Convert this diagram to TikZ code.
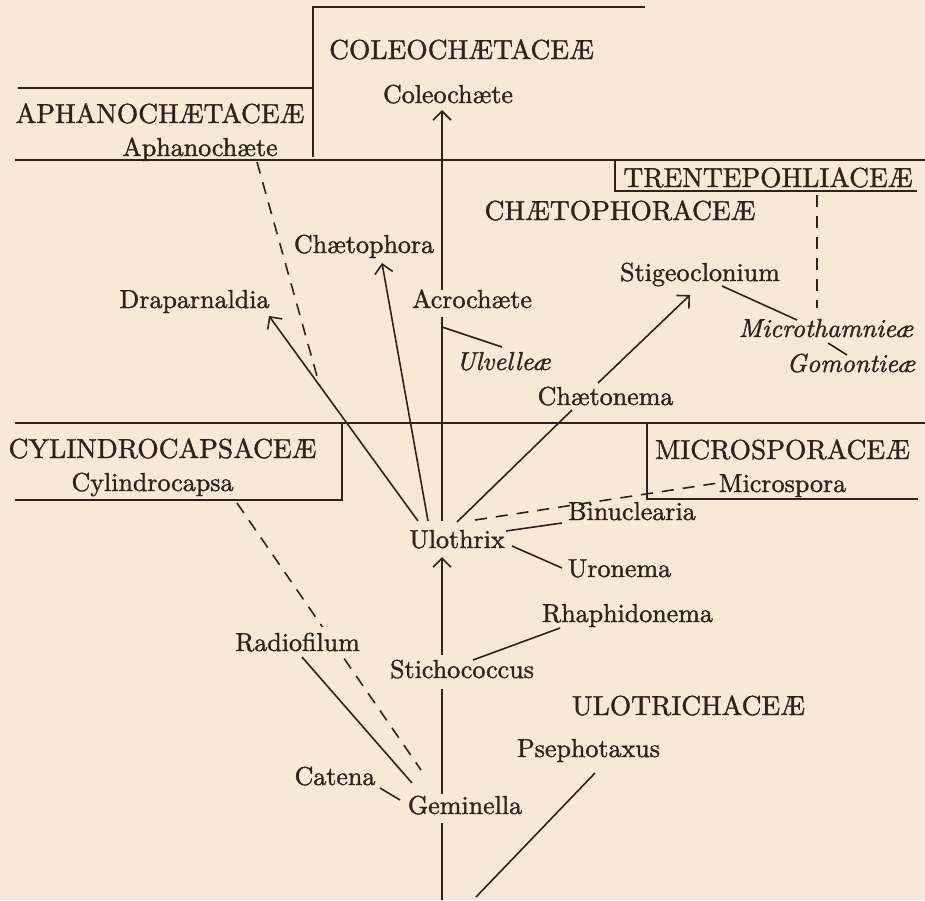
\documentclass[tikz,border=0pt]{standalone}
\usepackage{fontspec}
\setmainfont{lmroman10-regular.otf}[ItalicFont=lmroman10-italic.otf, FakeBold=1.3]
\usetikzlibrary{arrows.meta,calc}
\definecolor{bg}{RGB}{246,234,214}
\definecolor{ink}{RGB}{45,35,28}
\begin{document}
\begin{tikzpicture}[x=1pt,y=-1pt,
  lbl/.style={anchor=base, inner sep=0pt, text height=18pt, text depth=0pt, text=ink, font=\fontsize{26}{30}\selectfont},
  fam/.style={lbl, font=\fontsize{27.5}{30}\selectfont},
  sp/.style={lbl, font=\fontsize{26}{30}\selectfont\itshape},
  famline/.style={draw=ink, line width=1.6pt},
  link/.style={draw=ink, line width=1.6pt},
  arr/.style={link, -{Straight Barb[length=9pt,width=18pt]}},
  dsh/.style={link, dash pattern=on 12pt off 9pt}]
\fill[bg] (0,0) rectangle (925,900);
\useasboundingbox (0,0) rectangle (925,900);

% family frames
\draw[famline] (313,157) -- (313,7) -- (645,7);
\draw[famline] (18,88) -- (313,88);
\draw[famline] (15,160) -- (925,160);
\draw[famline] (615,160) -- (615,191) -- (917,191);
\draw[famline] (15,423) -- (925,423);
\draw[famline] (342,423) -- (342,500) -- (15,500);
\draw[famline] (647,423) -- (647,499) -- (918,499);

% labels
\node[fam] (colefam) at (461.5,59) {COLEOCHÆTACEÆ};
\node[lbl] (cole) at (448,103) {Coleochæte};
\node[fam] (aphfam) at (160,123) {APHANOCHÆTACEÆ};
\node[lbl] (aph) at (200,156) {Aphanochæte};
\node[fam] (trfam) at (768,187) {TRENTEPOHLIACEÆ};
\node[fam] (chfam) at (620,220) {CHÆTOPHORACEÆ};
\node[lbl] (stig) at (700,281) {Stigeoclonium};
\node[lbl] (acro) at (472,308) {Acrochæte};
\node[lbl] (chae) at (364,253) {Chætophora};
\node[lbl] (drap) at (194.5,308) {Draparnaldia};
\node[sp] (ulv) at (503.5,370) {Ulvelleæ};
\node[sp] (micth) at (826,337) {Microthamnieæ};
\node[sp] (gom) at (851,372) {Gomontieæ};
\node[lbl] (chtn) at (605.5,405) {Chætonema};
\node[fam] (cylfam) at (162.5,458) {CYLINDROCAPSACEÆ};
\node[lbl] (cyl) at (152.5,491) {Cylindrocapsa};
\node[fam] (micfam) at (782.5,459) {MICROSPORACEÆ};
\node[lbl] (mic) at (782.5,492) {Microspora};
\node[lbl] (binu) at (632,520) {Binuclearia};
\node[lbl] (ulo) at (457,548) {Ulothrix};
\node[lbl] (uro) at (619.5,577) {Uronema};
\node[lbl] (rhap) at (627.5,622) {Rhaphidonema};
\node[lbl] (stich) at (462,678) {Stichococcus};
\node[fam] (ulofam) at (688.5,715) {ULOTRICHACEÆ};
\node[lbl] (pse) at (588.5,757) {Psephotaxus};
\node[lbl] (cat) at (335,785) {Catena};
\node[lbl] (gem) at (465,814) {Geminella};
\coordinate (root) at (442,900);
\coordinate (psroot) at (476,897);

% main trunk
\draw[link] ([shift={(-23,9)}]gem.base) -- (root);
\draw[link] ([shift={(-23,-20)}]gem.base) -- ([shift={(-20,11)}]stich.base);
\draw[arr] ([shift={(-20,-23)}]stich.base) -- ([shift={(-15,9)}]ulo.base);
\draw[link] ([shift={(-15,-27)}]ulo.base) -- ([shift={(-30,9)}]acro.base);
\draw[arr] ([shift={(-30,-18)}]acro.base) -- ([shift={(-6,7)}]cole.base);
\coordinate (ulvfork) at ([shift={(-30,19)}]acro.base);
\draw[link] (ulvfork) -- ([shift={(-1.5,-23)}]ulv.base);

% branches from Ulothrix
\draw[arr] ([shift={(-39,-27)}]ulo.base) -- ([shift={(74.5,8)}]drap.base);
\draw[arr] ([shift={(-29,-27)}]ulo.base) -- ([shift={(18,10)}]chae.base);
\draw[link] ([shift={(0,-26)}]ulo.base) -- ([shift={(-33.5,5)}]chtn.base);
\draw[arr] ([shift={(-7.5,-22)}]chtn.base) -- ([shift={(-10,14)}]stig.base);
\draw[dsh] ([shift={(18,-28)}]ulo.base) -- ([shift={(-64.5,-9)}]mic.base);
\draw[link] ([shift={(49,-17)}]ulo.base) -- ([shift={(-70,3)}]binu.base);
\draw[link] ([shift={(55,-2)}]ulo.base) -- ([shift={(-57.5,-9)}]uro.base);
\draw[link] ([shift={(11,-18)}]stich.base) -- ([shift={(-67.5,6)}]rhap.base);
\draw[link] ([shift={(6.5,16)}]pse.base) -- (psroot);

% Chaetophoraceae side
\draw[link] ([shift={(22,5)}]stig.base) -- ([shift={(-29,-17)}]micth.base);
\draw[link] ([shift={(2,6)}]micth.base) -- ([shift={(-4,-17)}]gom.base);
\draw[dsh] ([shift={(49,8)}]trfam.base) -- ([shift={(-9,-29)}]micth.base);

% dashed affinities
\coordinate (drapjoin) at ($([shift={(-39,-27)}]ulo.base)!0.66!([shift={(74.5,8)}]drap.base)$);
\draw[dsh] ([shift={(57,6)}]aph.base) -- (drapjoin);
\draw[dsh] ([shift={(84.5,12)}]cyl.base) -- ([shift={(-44,-44)}]gem.base);
\node[lbl, fill=bg, inner ysep=6pt, inner xsep=1pt] (radio) at (297.5,651) {Radiofilum};
\draw[link] ([shift={(4.5,6)}]radio.base) -- ([shift={(-53,-31)}]gem.base);
\draw[link] ([shift={(45,3)}]cat.base) -- ([shift={(-65,-14)}]gem.base);
\end{tikzpicture}
\end{document}
